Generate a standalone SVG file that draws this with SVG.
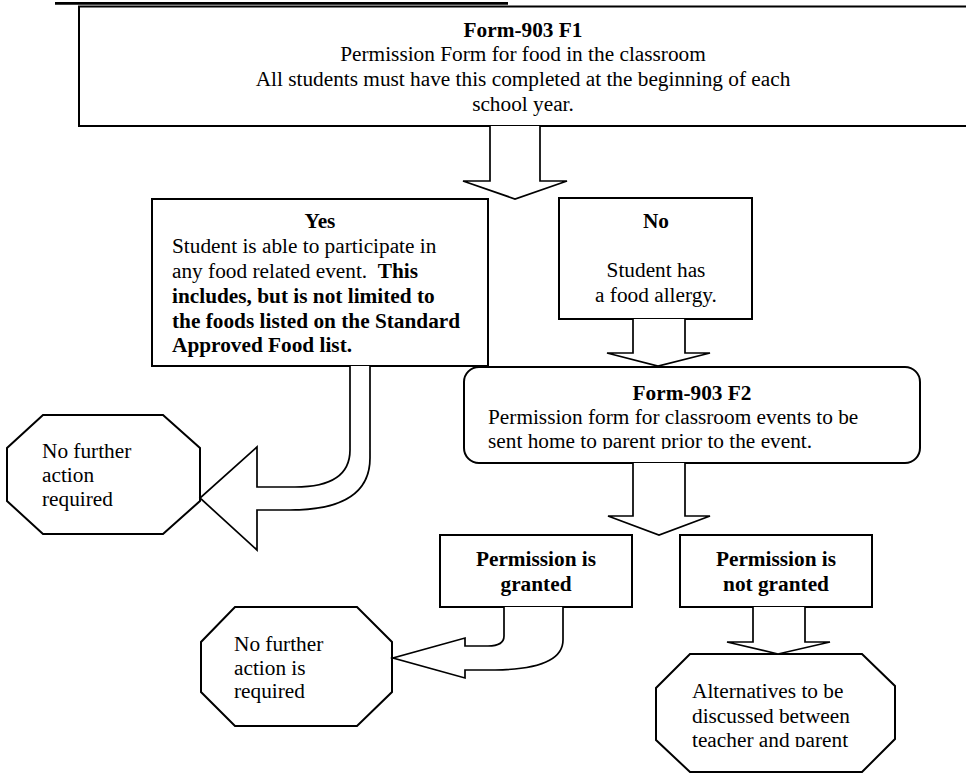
<svg xmlns="http://www.w3.org/2000/svg" width="966" height="776" viewBox="0 0 966 776">
<style>
  text { font-family: "Liberation Serif", "Times New Roman", serif; font-size: 21.3px; fill: #000; }
  .b { font-weight: bold; }
  .c { text-anchor: middle; }
  .box { fill: #fff; stroke: #000; stroke-width: 2; }
  .arr { fill: #fff; stroke: #000; stroke-width: 1.7; stroke-linejoin: miter; }
</style>
<defs>
  <clipPath id="clipF2"><rect x="464" y="367" width="456" height="82"/></clipPath>
  <clipPath id="clipAlt"><rect x="656" y="654" width="240" height="93"/></clipPath>
</defs>
<rect x="0" y="0" width="966" height="776" fill="#fff"/>
<line x1="55" y1="3.3" x2="508" y2="3.3" stroke="#000" stroke-width="2.8"/>

<g id="f1">
  <rect class="box" x="79" y="6.5" width="930" height="119.5"/>
  <text class="b c" x="523" y="36.5">Form-903 F1</text>
  <text class="c" x="523" y="61">Permission Form for food in the classroom</text>
  <text class="c" x="523" y="86">All students must have this completed at the beginning of each</text>
  <text class="c" x="523" y="110.5">school year.</text>
</g>

<g id="yes">
  <rect class="box" x="152" y="199" width="336" height="167"/>
  <text class="b c" x="320" y="228">Yes</text>
  <text x="172" y="253">Student is able to participate in</text>
  <text x="172" y="278" xml:space="preserve">any food related event.  <tspan class="b">This</tspan></text>
  <text class="b" x="172" y="303">includes, but is not limited to</text>
  <text class="b" x="172" y="328">the foods listed on the Standard</text>
  <text class="b" x="172" y="352">Approved Food list.</text>
</g>

<g id="no">
  <rect class="box" x="559" y="198" width="193" height="121"/>
  <text class="b c" x="656" y="228">No</text>
  <text class="c" x="656" y="277">Student has</text>
  <text class="c" x="656" y="302">a food allergy.</text>
</g>

<g id="f2">
  <rect class="box" x="464" y="367" width="456" height="96" rx="15" ry="15"/>
  <g clip-path="url(#clipF2)">
    <text class="b c" x="692" y="400">Form-903 F2</text>
    <text x="488" y="424">Permission form for classroom events to be</text>
    <text x="488" y="448">sent home to parent prior to the event.</text>
  </g>
</g>

<g id="end1">
  <polygon class="box" points="43,415 163,415 200,448 200,501 163,534 43,534 7,501 7,448"/>
  <text x="42" y="458">No further</text>
  <text x="42" y="482">action</text>
  <text x="42" y="506">required</text>
</g>

<g id="granted">
  <rect class="box" x="440" y="535" width="192" height="72"/>
  <text class="b c" x="536" y="566">Permission is</text>
  <text class="b c" x="536" y="591">granted</text>
</g>

<g id="notgranted">
  <rect class="box" x="680" y="535" width="192" height="72"/>
  <text class="b c" x="776" y="566">Permission is</text>
  <text class="b c" x="776" y="591">not granted</text>
</g>

<g id="end2">
  <polygon class="box" points="235,607 357,607 392,642 392,692 357,726 235,726 201,692 201,642"/>
  <text x="234" y="651">No further</text>
  <text x="234" y="675">action is</text>
  <text x="234" y="698">required</text>
</g>

<g id="alternatives">
  <polygon class="box" points="690,654 862,654 895,686 895,739 862,772 690,772 656,740 656,688"/>
  <g clip-path="url(#clipAlt)">
    <text x="692" y="698">Alternatives to be</text>
    <text x="692" y="723">discussed between</text>
    <text x="692" y="747">teacher and parent</text>
  </g>
</g>

<g id="connectors">
  <path class="arr" d="M490,126 L490,181 L463,181 L515,199 L567,181 L540,181 L540,126"/>
  <path class="arr" d="M633,319 L633,353 L607,353 L658,366 L710,353 L685,353 L685,319"/>
  <path class="arr" d="M633,463 L633,516 L608,516 L659,535 L710,516 L685,516 L685,463"/>
  <path class="arr" d="M753,607 L753,642 L727,642 L778,654 L830,642 L805,642 L805,607"/>
  <path class="arr" d="M350,366 L350,450 Q350,487 295,487 L257,487 L257,447 L200,498 L257,550 L257,510 L290,510 Q370,510 370,458 L370,366"/>
  <path class="arr" d="M504,607 L504,636 Q504,646 488,646 L465,646 L465,638 L393,658 L465,678 L465,670 L495,670 Q563,669 563,640 L563,607"/>
</g>
</svg>
